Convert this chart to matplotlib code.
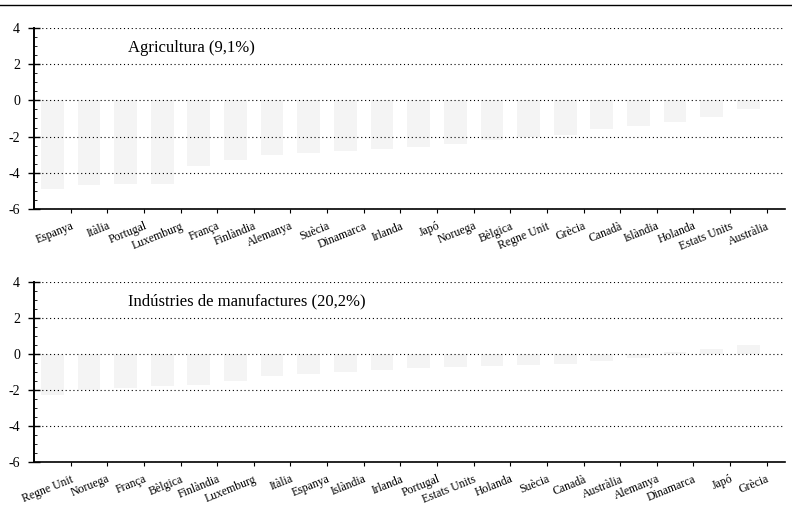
import matplotlib
matplotlib.use("Agg")
import matplotlib.pyplot as plt
from matplotlib.lines import Line2D
from matplotlib.ticker import MultipleLocator

# values (bars barely survive, estimates from residual marks)
agri_countries = ["Espanya", "Itàlia", "Portugal", "Luxemburg", "França", "Finlàndia",
                  "Alemanya", "Suècia", "Dinamarca", "Irlanda", "Japó", "Noruega",
                  "Bèlgica", "Regne Unit", "Grècia", "Canadà", "Islàndia", "Holanda",
                  "Estats Units", "Austràlia"]
agri_values = [-4.9, -4.7, -4.6, -4.6, -3.6, -3.3, -3.0, -2.9, -2.8, -2.7,
               -2.6, -2.4, -2.2, -2.0, -1.9, -1.6, -1.4, -1.2, -0.9, -0.5]

manuf_countries = ["Regne Unit", "Noruega", "França", "Bèlgica", "Finlàndia", "Luxemburg",
                   "Itàlia", "Espanya", "Islàndia", "Irlanda", "Portugal", "Estats Units",
                   "Holanda", "Suècia", "Canadà", "Austràlia", "Alemanya", "Dinamarca",
                   "Japó", "Grècia"]
manuf_values = [-2.3, -2.0, -1.9, -1.8, -1.7, -1.5, -1.2, -1.1, -1.0, -0.9,
                -0.8, -0.7, -0.65, -0.6, -0.55, -0.4, -0.2, 0.1, 0.3, 0.5]

y_ticks = [4, 2, 0, -2, -4, -6]

plt.rcParams["font.family"] = ["Liberation Serif", "DejaVu Serif"]
plt.rcParams["axes.unicode_minus"] = False

fig = plt.figure(figsize=(7.92, 5.08), dpi=100)
W, H = 792.0, 508.0


def panel(rect_px, countries, values, title):
    left, top, right, bottom = rect_px
    ax = fig.add_axes([left / W, 1 - bottom / H, (right - left) / W, (bottom - top) / H])
    xs = [i + 0.5 for i in range(len(values))]
    # the scan keeps almost nothing of the bar fill, so keep it very faint
    ax.bar(xs, values, width=0.62, color="#f4f4f4", edgecolor="none", zorder=1)
    ax.set_xlim(0, len(values) + 0.5)
    ax.set_ylim(-6, 4)
    for y in y_ticks:
        ax.axhline(y, color="black", linestyle=(0, (1, 2.5)), linewidth=0.8, zorder=2)
    ax.spines["top"].set_visible(False)
    ax.spines["right"].set_visible(False)
    ax.spines["left"].set_linewidth(1.4)
    ax.spines["bottom"].set_linewidth(1.2)
    ax.set_yticks(y_ticks)
    ax.set_yticklabels([str(v) for v in y_ticks], fontsize=10)
    ax.yaxis.set_minor_locator(MultipleLocator(0.5))
    ax.tick_params(axis="y", which="major", direction="inout", length=8, width=1.0, pad=6)
    ax.tick_params(axis="y", which="minor", direction="in", length=2, width=0.6)
    ax.set_xticks([i + 1 for i in range(len(countries))])
    ax.set_xticklabels(countries, rotation=22, ha="right", rotation_mode="anchor",
                       fontsize=8.5)
    ax.tick_params(axis="x", direction="out", length=3, width=0.8, pad=5)
    ax.text(0.125, 0.89, title, transform=ax.transAxes, fontsize=12,
            ha="left", va="center")
    return ax


panel((34, 28, 785, 209), agri_countries, agri_values, "Agricultura (9,1%)")
panel((34, 282, 785, 462), manuf_countries, manuf_values,
      "Indústries de manufactures (20,2%)")

fig.add_artist(Line2D([0, 1], [1 - 5 / H, 1 - 5 / H], color="black", linewidth=1.0,
                      transform=fig.transFigure))

fig.savefig("out.png", dpi=100)
